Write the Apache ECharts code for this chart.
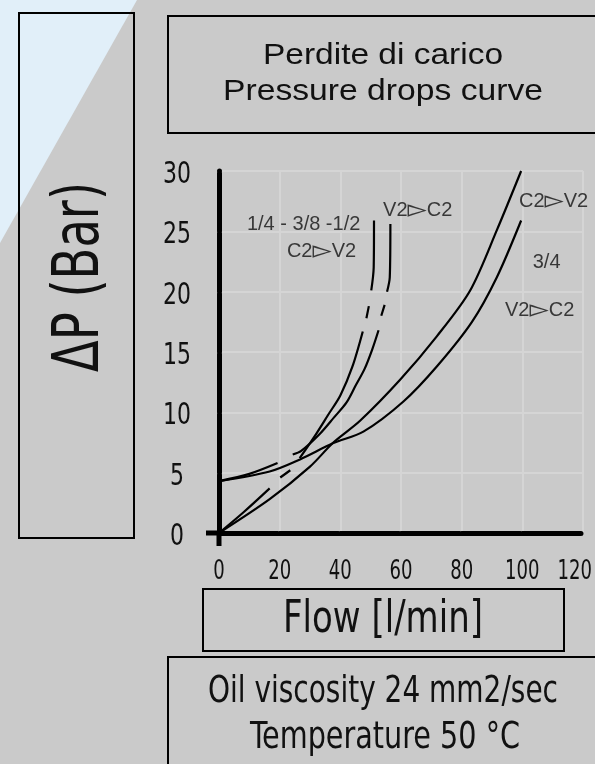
<!DOCTYPE html>
<html>
<head>
<meta charset="utf-8">
<script src="https://cdn.jsdelivr.net/npm/echarts@6/dist/echarts.min.js"></script>
<style>
html, body { margin: 0; padding: 0; background: #cacaca; }
#chart { width: 595px; height: 764px; }
</style>
</head>
<body>
<div id="chart"></div>
<script>
// assi
const xTicks = [0, 20, 40, 60, 80, 100, 120]
const yTicks = [0, 5, 10, 15, 20, 25, 30]

// curve 1/4 - 3/8 - 1/2 (null = tratto interrotto)
const smallC2V2 = [[0, 0], [8, 1.7], [16.7, 3.7], [18.5, null], [20.2, 4.6], [23.5, 5.2], [25, null],
    [26.6, 6.2], [32, 8.2], [36, 9.8], [40, 11.4], [44, 13.8], [47.4, 16.7], [48, null],
    [48.6, 17.8], [49.4, 18.8], [49.8, null], [50.2, 20.1], [51, 22], [51.1, 25.9]]
const smallV2C2 = [[0, 4.3], [10, 4.9], [19.3, 5.8], [21.5, null], [24.3, 6.5], [27.1, 6.8],
    [33.2, 8.2], [38, 9.6], [42, 10.8], [45, 12.2], [48, 13.6], [50.5, 15.2], [52.6, 16.8], [53, null],
    [53.5, 18.0], [54.6, 18.9], [55, null], [55.4, 20.0], [56.3, 21.2], [56.5, 25.6]]
// curve 3/4
const bigC2V2 = [[0, 0], [16.7, 2.8], [30, 5.5], [37.7, 7.5], [46.5, 9.3], [59.7, 12.7],
    [71.8, 16.3], [82.8, 20.1], [91.6, 25.1], [99.6, 30]]
const bigV2C2 = [[0, 4.3], [16.7, 5.1], [26.7, 6.1], [37.7, 7.45], [47.6, 8.4], [60.8, 10.9],
    [71.8, 13.8], [83.4, 17.5], [91.6, 21.2], [99.6, 25.9]]

// etichette sulle curve [x, y, testo]
const notes = [
    [27.9, 25.6, '1/4 - 3/8 -1/2'],
    [33.8, 23.3, 'C2\u25BBV2'],
    [65.5, 26.7, 'V2\u25BBC2'],
    [110.3, 27.5, 'C2\u25BBV2'],
    [108, 22.4, '3/4'],
    [105.7, 18.4, 'V2\u25BBC2']
]

const isoFont = "'DejaVu Sans Condensed', 'DejaVu Sans', sans-serif"
const arialFont = "'Liberation Sans', Arial, sans-serif"

// larghezza del testo per comprimerlo (font tipo ISOCP)
const ctx = document.createElement('canvas').getContext('2d')
function widthOf(text, font) {
    ctx.font = font
    return ctx.measureText(text).width
}
function fitText(text, size, family, x, y, width, extra) {
    const font = size + 'px ' + family
    return Object.assign({
        type: 'text', x, y,
        scaleX: width / widthOf(text, font),
        style: { text, fill: '#111', font, align: 'center', verticalAlign: 'middle' },
        z: 10
    }, extra || {})
}

const chart = echarts.init(document.getElementById('chart'), null, { renderer: 'canvas' })

function curve(name, data) {
    return {
        name,
        type: 'line',
        data,
        smooth: 0.3,
        showSymbol: false,
        connectNulls: false,
        lineStyle: { color: '#000', width: 2.2 },
        z: 3
    }
}

const gap = 2
chart.setOption({
    backgroundColor: '#cacaca',
    animation: false,
    grid: { left: 219, right: 12, top: 171, bottom: 231 },
    xAxis: {
        type: 'value', min: xTicks[0], max: xTicks[xTicks.length - 1], interval: xTicks[1] - xTicks[0],
        axisLine: { lineStyle: { color: '#000', width: 5, type: [364 / 6 - gap, gap] } },
        axisTick: { show: false },
        splitLine: { lineStyle: { color: '#d5d5d5', width: 2 } },
        axisLabel: { show: false }
    },
    yAxis: {
        type: 'value', min: yTicks[0], max: yTicks[yTicks.length - 1], interval: yTicks[1] - yTicks[0],
        axisLine: { show: true, lineStyle: { color: '#000', width: 5, type: [362 / 6 - gap, gap] } },
        axisTick: { show: false },
        splitLine: { lineStyle: { color: '#d5d5d5', width: 2 } },
        axisLabel: { show: false }
    },
    series: [
        curve('1/4-3/8-1/2 C2>V2', smallC2V2),
        curve('1/4-3/8-1/2 V2>C2', smallV2C2),
        curve('3/4 C2>V2', bigC2V2),
        curve('3/4 V2>C2', bigV2C2),
        {
            type: 'scatter',
            data: notes,
            symbolSize: 0,
            silent: true,
            label: {
                show: true, position: 'inside',
                formatter: p => p.data[2].replace('\u25BB', '{a|\u25BB}'),
                color: '#111', fontFamily: arialFont, fontSize: 20,
                rich: { a: { fontSize: 25, color: '#111', fontFamily: "'DejaVu Sans', sans-serif" } }
            },
            z: 4
        }
    ]
})

// etichette degli assi, posizionate con la scala del grafico
const tickLabels = []
const yDigit = 14, xDigit = 11.5
yTicks.forEach(v => {
    const p = chart.convertToPixel({ gridIndex: 0 }, [0, v])
    const t = String(v)
    tickLabels.push(fitText(t, 31, isoFont, 177, p[1] + 4, yDigit * t.length))
})
xTicks.forEach(v => {
    const p = chart.convertToPixel({ gridIndex: 0 }, [v, 0])
    const t = String(v)
    const w = xDigit * t.length
    tickLabels.push(fitText(t, 27, isoFont, Math.min(p[0], 592 - w / 2), p[1] + 39, w))
})

const o = chart.convertToPixel({ gridIndex: 0 }, [0, 0])
const box = { fill: 'none', stroke: '#000', lineWidth: 2 }
chart.setOption({
    graphic: [
        { type: 'polygon', shape: { points: [[0, 0], [137, 0], [0, 243]] }, style: { fill: '#e1eff9', stroke: 'none' }, z: -1, silent: true },
        { type: 'rect', shape: { x: 19, y: 13, width: 115, height: 525 }, style: box },
        { type: 'rect', shape: { x: 168, y: 16, width: 440, height: 117 }, style: box },
        { type: 'rect', shape: { x: 203, y: 589, width: 361, height: 62 }, style: box },
        { type: 'rect', shape: { x: 168, y: 657, width: 440, height: 120 }, style: box },
        fitText('Perdite di carico', 30, arialFont, 383, 56, 240),
        fitText('Pressure drops curve', 30, arialFont, 383, 92, 320),
        fitText('\u0394P (Bar)', 64, isoFont, 81, 277, 190, { rotation: Math.PI / 2 }),
        fitText('Flow [l/min]', 45, isoFont, 383, 620, 200),
        fitText('Oil viscosity 24 mm2/sec', 38, isoFont, 383, 692, 350),
        fitText('Temperature 50 \u00B0C', 38, isoFont, 385, 738, 270),
        // prolungamento degli assi oltre l'origine
        { type: 'line', shape: { x1: o[0] - 13, y1: o[1], x2: o[0], y2: o[1] }, style: { stroke: '#000', lineWidth: 5 }, z: 5 },
        { type: 'line', shape: { x1: o[0], y1: o[1], x2: o[0], y2: o[1] + 13 }, style: { stroke: '#000', lineWidth: 5 }, z: 5 }
    ].concat(tickLabels)
})
</script>
</body>
</html>
